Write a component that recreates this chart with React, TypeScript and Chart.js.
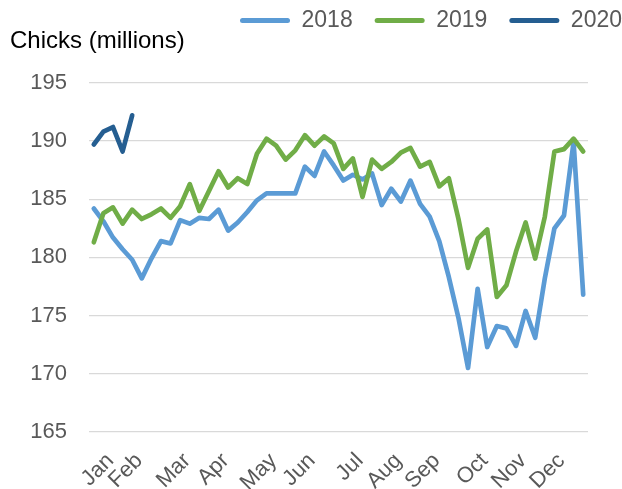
import React, { useEffect, useRef } from "react";
import { Chart, registerables } from "chart.js";

Chart.register(...registerables);

const categories: string[] = [
  "", "Jan", "", "", "Feb", "", "", "", "", "Mar", "", "", "",
  "Apr", "", "", "", "", "May", "", "", "", "Jun", "", "", "", "",
  "Jul", "", "", "", "Aug", "", "", "", "Sep", "", "", "", "",
  "Oct", "", "", "", "Nov", "", "", "", "Dec", "", "", "",
];

const series2018: number[] = [
  184.2, 183.1, 181.7, 180.7, 179.8, 178.2, 179.9, 181.4, 181.2, 183.2,
  182.9, 183.4, 183.3, 184.1, 182.3, 183.0, 183.9, 184.9, 185.5, 185.5,
  185.5, 185.5, 187.8, 187.0, 189.1, 187.9, 186.6, 187.1, 186.7, 187.2,
  184.5, 185.9, 184.8, 186.6, 184.6, 183.5, 181.4, 178.3, 174.8, 170.5,
  177.3, 172.3, 174.1, 173.9, 172.4, 175.4, 173.1, 178.2, 182.5, 183.6,
  189.9, 176.8,
];

const series2019: number[] = [
  181.3, 183.8, 184.3, 182.9, 184.1, 183.3, 183.7, 184.2, 183.4, 184.4,
  186.3, 184.0, 185.7, 187.4, 186.0, 186.8, 186.3, 188.9, 190.2, 189.6,
  188.4, 189.2, 190.5, 189.6, 190.4, 189.8, 187.6, 188.5, 185.2, 188.4,
  187.6, 188.2, 189.0, 189.4, 187.8, 188.2, 186.1, 186.8, 183.3, 179.1,
  181.6, 182.4, 176.6, 177.6, 180.5, 183.0, 179.9, 183.5, 189.1, 189.3,
  190.2, 189.1,
];

const series2020: number[] = [189.7, 190.8, 191.2, 189.1, 192.2];

const seriesNames: string[] = ["2018", "2019", "2020"];
const seriesColors: string[] = ["#5B9BD5", "#70AD47", "#255E91"];

const yTicks = { min: 165, max: 195, step: 5 };

const FONT = "'Liberation Sans', Arial, Helvetica, sans-serif";
const GRAY = "#595959";

export default function App() {
  const canvasRef = useRef<HTMLCanvasElement | null>(null);

  useEffect(() => {
    if (!canvasRef.current) return;
    const values = [series2018, series2019, series2020];

    const legendShift = {
      id: "legendShift",
      afterLayout(chart: any) {
        const l = chart.legend;
        if (l) {
          l.left += 22;
          l.right += 22;
        }
      },
    };

    const chart = new Chart(canvasRef.current, {
      type: "line",
      data: {
        labels: categories,
        datasets: values.map((v, i) => ({
          label: seriesNames[i],
          data: v,
          borderColor: seriesColors[i],
          backgroundColor: seriesColors[i],
          borderWidth: 4.7,
          borderCapStyle: "round",
          borderJoinStyle: "round",
          pointRadius: 0,
          pointHoverRadius: 0,
          tension: 0,
          fill: false,
          order: 3 - i,
        })),
      },
      options: {
        responsive: false,
        animation: false,
        devicePixelRatio: 1,
        layout: { padding: { left: 10, right: 0, top: -13, bottom: 0 } },
        plugins: {
          tooltip: { enabled: false },
          legend: {
            display: true,
            position: "top",
            align: "end",
            weight: 3000,
            labels: {
              color: GRAY,
              font: { family: FONT, size: 23 },
              boxWidth: 50,
              boxHeight: 5,
              padding: 22,
              useBorderRadius: true,
              borderRadius: 2.5,
              sort: (a: any, b: any) => a.datasetIndex - b.datasetIndex,
              generateLabels: (ch: any) =>
                Chart.defaults.plugins.legend.labels
                  .generateLabels(ch)
                  .map((it: any) => ({ ...it, lineWidth: 0 })),
            },
          } as any,
          title: {
            display: true,
            text: "Chicks (millions)",
            align: "start",
            color: "#000000",
            font: { family: FONT, size: 24, weight: "normal" },
            padding: { top: -15, bottom: 27 },
          },
        },
        scales: {
          x: {
            type: "category",
            offset: true,
            grid: { display: false },
            border: { display: false },
            ticks: {
              autoSkip: false,
              minRotation: 45,
              maxRotation: 45,
              color: GRAY,
              font: { family: FONT, size: 22 },
              padding: 8,
              labelOffset: 7,
            },
            afterFit(scale: any) {
              scale.height = 57;
            },
          },
          y: {
            type: "linear",
            position: "left",
            min: yTicks.min,
            max: yTicks.max,
            grid: { color: "#D9D9D9", lineWidth: 1.3, drawTicks: false },
            border: { display: false },
            ticks: {
              stepSize: yTicks.step,
              color: GRAY,
              font: { family: FONT, size: 22 },
              padding: 22,
            },
            afterFit(scale: any) {
              scale.width = 79;
            },
          },
          yRight: {
            type: "linear",
            position: "right",
            display: true,
            min: yTicks.min,
            max: yTicks.max,
            grid: { display: false, drawTicks: false },
            border: { display: false },
            ticks: { display: false },
            afterFit(scale: any) {
              scale.width = 34;
            },
          },
        },
      },
      plugins: [legendShift],
    } as any);

    return () => chart.destroy();
  }, []);

  return (
    <div style={{ position: "absolute", left: 0, top: 0, width: 622, height: 489, background: "#fff" }}>
      <canvas ref={canvasRef} width={622} height={489} />
    </div>
  );
}
